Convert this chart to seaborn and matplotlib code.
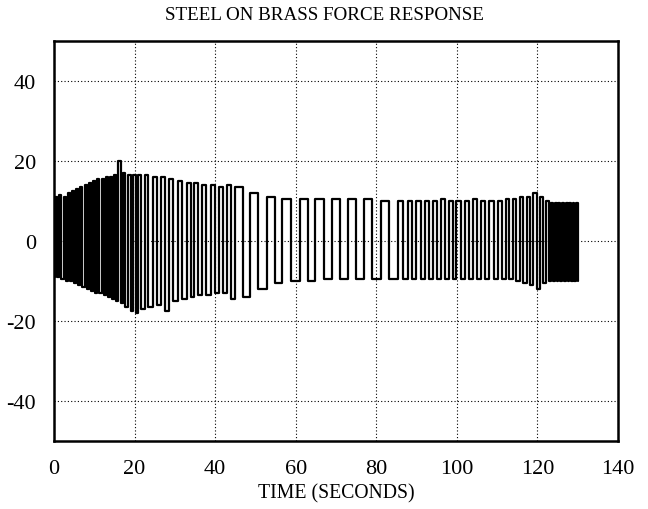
import matplotlib
matplotlib.use("Agg")
import matplotlib.pyplot as plt
import seaborn as sns
import pandas as pd

# ---- data ----
# time (s) where each cycle switches to its high level
rise_t = [0.3, 1.3, 2.4, 3.5, 4.5, 5.5, 6.5, 7.6, 8.6, 9.6,
          10.7, 11.8, 12.8, 13.9, 15.0, 16.0, 17.1, 18.4, 19.6, 20.9,
          22.5, 24.5, 26.6, 28.6, 30.8, 32.9, 34.8, 36.7, 38.9, 40.9,
          43.0, 45.0, 48.6, 52.8, 56.7, 61.0, 64.9, 68.9, 73.0, 77.0,
          81.1, 85.3, 87.8, 89.8, 92.1, 94.1, 96.0, 98.1, 99.9, 102.0,
          104.0, 105.9, 108.0, 110.2, 112.1, 113.9, 115.6, 117.3, 118.9, 120.6,
          122.2, 123.3, 124.3, 125.2, 126.1, 127.0, 127.9, 128.8, 129.6]
# time (s) where each cycle switches to its low level
fall_t = [0.8, 1.8, 2.9, 4.0, 5.0, 6.0, 7.0, 8.1, 9.1, 10.1,
          11.2, 12.3, 13.3, 14.4, 15.5, 16.6, 17.7, 19.0, 20.3, 21.6,
          23.3, 25.5, 27.6, 29.6, 31.8, 33.9, 35.8, 37.7, 39.9, 41.9,
          44.0, 46.8, 50.7, 54.8, 58.9, 63.0, 66.9, 71.0, 75.0, 79.0,
          83.2, 86.7, 88.9, 91.0, 93.2, 95.1, 97.1, 99.0, 101.0, 103.0,
          105.0, 107.0, 109.1, 111.2, 113.0, 114.8, 116.5, 118.1, 119.8, 121.4,
          122.8, 123.8, 124.8, 125.7, 126.6, 127.5, 128.4, 129.2, 130.0]
high_level = [11.0, 11.5, 11.0, 12.0, 12.5, 13.0, 13.5, 14.0, 14.5, 15.0,
              15.5, 15.5, 16.0, 16.0, 16.5, 20.0, 17.0, 16.5, 16.5, 16.5,
              16.5, 16.0, 16.0, 15.5, 15.0, 14.5, 14.5, 14.0, 14.0, 13.5,
              14.0, 13.5, 12.0, 11.0, 10.5, 10.5, 10.5, 10.5, 10.5, 10.5,
              10.0, 10.0, 10.0, 10.0, 10.0, 10.0, 10.5, 10.0, 10.0, 10.0,
              10.5, 10.0, 10.0, 10.0, 10.5, 10.5, 11.0, 11.0, 12.0, 11.0,
              10.0, 9.5, 9.5, 9.5, 9.5, 9.5, 9.5, 9.5, 9.5]
low_level = [-9.0, -9.5, -10.0, -10.0, -10.5, -11.0, -11.5, -12.0, -12.5, -13.0,
             -13.0, -13.5, -14.0, -14.5, -15.0, -15.5, -16.5, -17.5, -18.0, -17.0,
             -16.5, -16.0, -17.5, -15.0, -14.5, -14.0, -13.5, -13.5, -13.0, -13.0,
             -14.5, -14.0, -12.0, -10.5, -10.0, -10.0, -9.5, -9.5, -9.5, -9.5,
             -9.5, -9.5, -9.5, -9.5, -9.5, -9.5, -9.5, -9.5, -9.5, -9.5,
             -9.5, -9.5, -9.5, -9.5, -9.5, -10.0, -10.5, -11.0, -12.0, -10.5,
             -10.0, -10.0, -10.0, -10.0, -10.0, -10.0, -10.0, -10.0, -10.0]
end_t = 130.0

x_ticks = [0, 20, 40, 60, 80, 100, 120, 140]
y_ticks = [-40, -20, 0, 20, 40]

# ---- build step trace from the cycle table ----
xs, ys = [0.0], [low_level[0]]
for r, f, h, l in zip(rise_t, fall_t, high_level, low_level):
    xs += [r, f]
    ys += [h, l]
xs.append(end_t)
ys.append(low_level[-1])
df = pd.DataFrame({"time": xs, "force": ys})

sns.set_theme(style="white")
plt.rcParams["font.family"] = ["Liberation Serif", "DejaVu Serif"]
plt.rcParams["axes.unicode_minus"] = False

fig = plt.figure(figsize=(6.48, 5.10), dpi=100)
ax = fig.add_axes([54 / 648, 1 - 442 / 510, (618 - 54) / 648, (442 - 42) / 510])

sns.lineplot(data=df, x="time", y="force", ax=ax, color="black",
             linewidth=1.6, estimator=None, sort=False,
             drawstyle="steps-post")

ax.set_xlim(0, 140)
ax.set_ylim(-50, 50)
ax.set_xticks(x_ticks)
ax.set_yticks(y_ticks)
ax.grid(True, color="black", linestyle=(0, (1, 2)), linewidth=0.8)
ax.set_axisbelow(True)
for s in ax.spines.values():
    s.set_color("black")
    s.set_linewidth(1.8)
ax.tick_params(direction="in", length=4, width=1.2, labelsize=16,
               colors="black")
ax.tick_params(axis="x", pad=13)
ax.tick_params(axis="y", pad=13)
ax.set_xlabel("TIME (SECONDS)", fontsize=14.2, labelpad=4, color="black")
ax.set_ylabel("")
fig.text(324 / 648, 1 - 15 / 510, "STEEL ON BRASS FORCE RESPONSE",
         fontsize=13.7, ha="center", va="center", color="black")

fig.savefig("out.png", dpi=100)
